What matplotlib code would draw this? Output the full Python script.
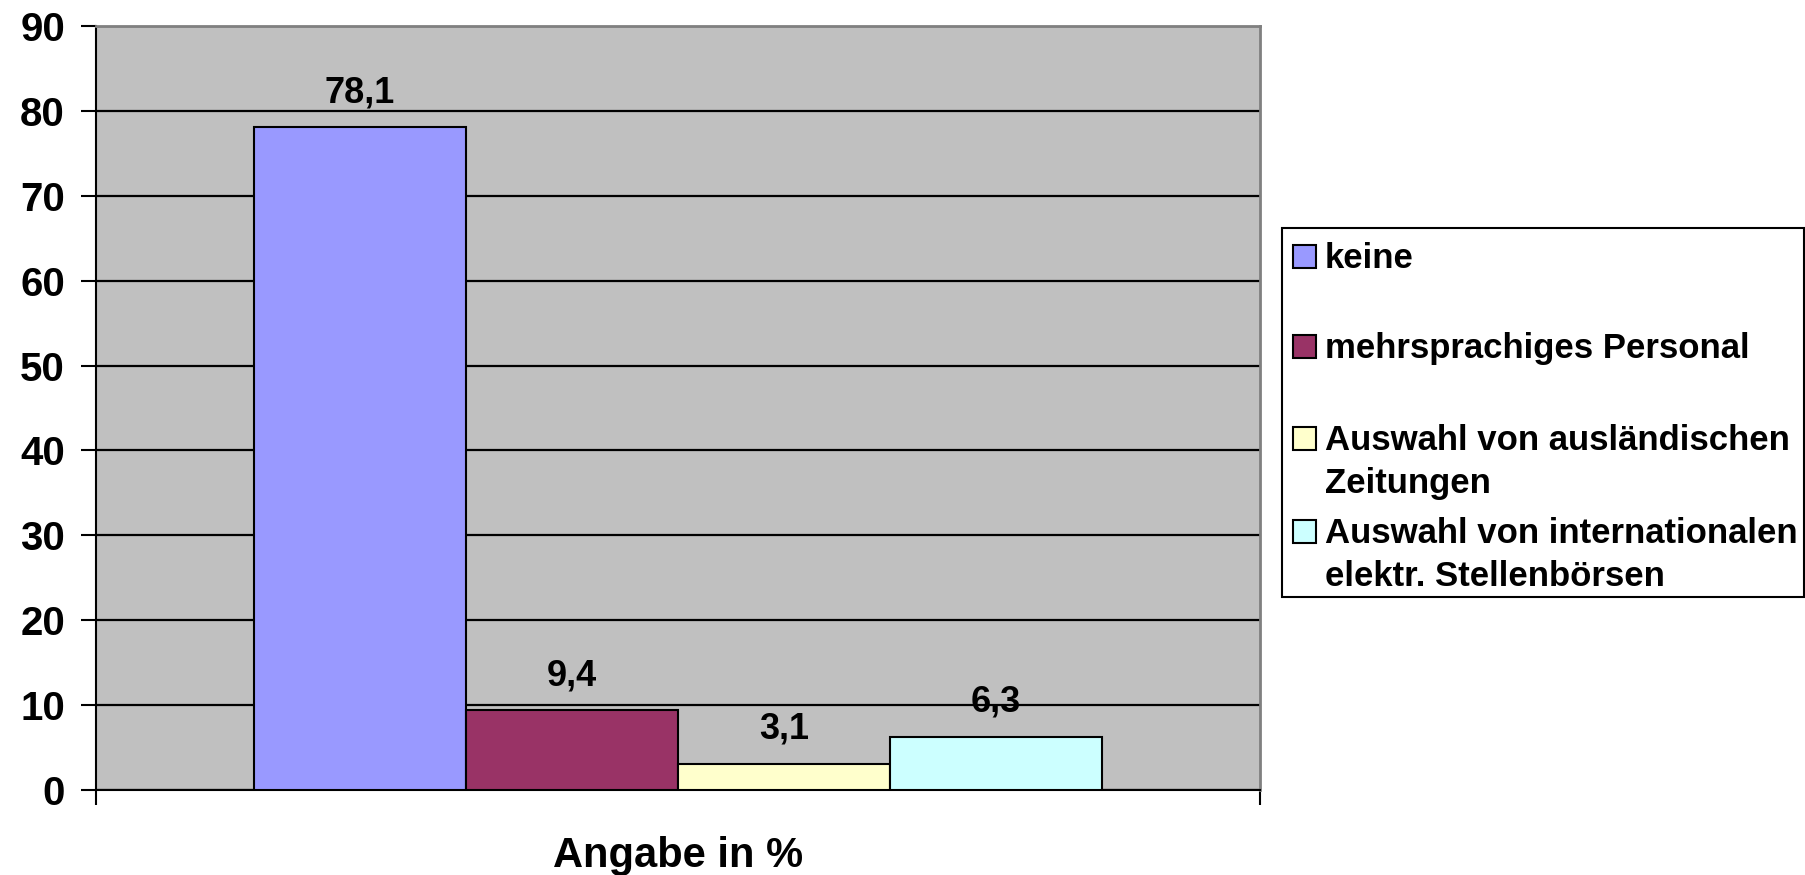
import numpy as np
import matplotlib
matplotlib.use("Agg")
import matplotlib.pyplot as plt
from matplotlib.patches import Rectangle

plt.rcParams["font.family"] = ["Liberation Sans", "DejaVu Sans"]
plt.rcParams["font.weight"] = "bold"

# data
labels = [
    "keine",
    "mehrsprachiges Personal",
    "Auswahl von ausländischen\nZeitungen",
    "Auswahl von internationalen\nelektr. Stellenbörsen",
]
values = [78.1, 9.4, 3.1, 6.3]
colors = ["#9999FF", "#993366", "#FFFFCC", "#CCFFFF"]
y_ticks = [0, 10, 20, 30, 40, 50, 60, 70, 80, 90]
x_title = "Angabe in %"

W, H = 1805, 875
fig = plt.figure(figsize=(W / 100, H / 100), dpi=100)
ax = fig.add_axes([95.5 / W, 1 - 790 / H, (1260 - 95.5) / W, (790 - 26) / H])
ax.set_facecolor("#C0C0C0")

bw = 0.182
x = (np.arange(len(values)) - (len(values) - 1) / 2) * bw
bars = ax.bar(x, values, width=bw, color=colors, edgecolor="black", linewidth=1.5, zorder=3)

# value labels with german decimal comma
for xi, v in zip(x, values):
    ax.annotate(f"{v:.1f}".replace(".", ","), (xi, v), xytext=(0, 18),
                textcoords="offset points", ha="center", va="baseline",
                fontsize=26, fontweight="bold", zorder=4)

ax.set_xlim(-0.5, 0.5)
ax.set_ylim(0, 90)
ax.set_yticks(y_ticks)
ax.yaxis.grid(True, color="black", linewidth=1.6)
ax.set_axisbelow(True)

ax.set_xticks([-0.5, 0.5])
ax.tick_params(axis="x", length=11, width=1.5, labelbottom=False)
ax.tick_params(axis="y", length=11, width=1.5, labelsize=29, pad=11)
for lab in ax.get_yticklabels():
    lab.set_fontweight("bold")

for side in ["left", "bottom"]:
    ax.spines[side].set_color("black")
    ax.spines[side].set_linewidth(1.5)
for side in ["top", "right"]:
    ax.spines[side].set_color("#808080")
    ax.spines[side].set_linewidth(2)

ax.set_xlabel(x_title, fontsize=30, fontweight="bold", labelpad=22)

# legend drawn by hand to keep the excel-like layout
def fx(px):
    return px / W

def fy(py):
    return 1 - py / H

fig.patches.append(Rectangle((fx(1282), fy(597)), fx(1804) - fx(1282), fy(228) - fy(597),
                             transform=fig.transFigure, facecolor="white",
                             edgecolor="black", linewidth=1.5, zorder=1))
base_y = [268, 358, 450, 543]
for lab, col, by in zip(labels, colors, base_y):
    fig.patches.append(Rectangle((fx(1293), fy(by)), fx(23), 23 / H,
                                 transform=fig.transFigure, facecolor=col,
                                 edgecolor="black", linewidth=1.5, zorder=2))
    for i, line in enumerate(lab.split("\n")):
        fig.text(fx(1325), fy(by + i * 43), line, fontsize=25, fontweight="bold",
                 ha="left", va="baseline", zorder=3)

fig.savefig("out.png", dpi=100)
